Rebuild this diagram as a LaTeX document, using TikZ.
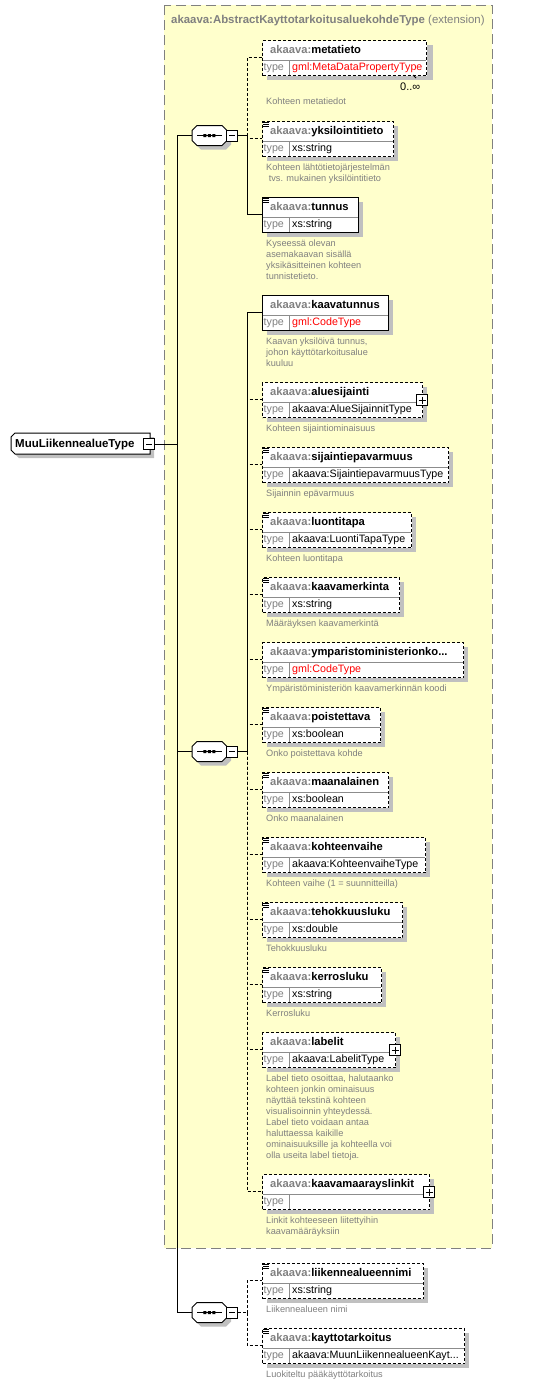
\documentclass[tikz,border=0pt]{standalone}
\usepackage{fontspec}
\setmainfont{Liberation Sans}
\definecolor{bgyellow}{HTML}{FFFFCC}
\definecolor{shadowc}{HTML}{C0C0C0}
\definecolor{prefc}{HTML}{808080}
\definecolor{descc}{HTML}{808080}
\definecolor{sepc}{HTML}{8C8C8C}
\definecolor{bordc}{HTML}{808080}
\definecolor{typered}{HTML}{FF0000}
\tikzset{
 reqb/.style={draw=black, line width=1pt},
 optb/.style={draw=black, line width=1pt, dash pattern=on 3pt off 2pt},
 conn/.style={draw=black, line width=1pt},
 optconn/.style={draw=black, line width=1pt, dash pattern=on 3pt off 2pt},
 hdr/.style={anchor=base west, inner sep=0pt, font=\fontsize{11.2}{13}\selectfont\bfseries},
 typel/.style={anchor=base west, inner sep=0pt, text=prefc, font=\fontsize{10.7}{13}\selectfont},
 typev/.style={anchor=base west, inner sep=0pt, font=\fontsize{10.7}{13}\selectfont},
 desc/.style={anchor=north west, inner sep=0pt, align=left, text=descc, font=\fontsize{9.2}{11}\selectfont},
 pmbox/.style={draw=black, fill=white, line width=1pt, minimum size=11pt, inner sep=0pt},
}
% element box: id, top, width, name, type, style
\newcommand\elem[6]{%
 \fill[shadowc] (267,#2+5) rectangle ++(#3,35);
 \node[#6, fill=white, minimum width=#3pt, minimum height=35pt, inner sep=0pt, anchor=north west] (#1) at (262,#2) {};
 \draw[sepc, line width=1pt] (262.5,#2+20) -- ++(#3-1,0);
 \draw[sepc, line width=1pt] (289,#2+20) -- (289,#2+34.5);
 \node[hdr] (#1h) at (270,#2+13.5) {\textcolor{prefc}{akaava:}#4};
 \node[typel] (#1t) at (263.5,#2+30) {type};
 \node[typev] (#1v) at (292,#2+30) {#5};
 \coordinate (#1c) at (262,#2+17);
}
% description: id, centre of first line, text
\newcommand\edesc[3]{%
 \node[desc] (#1d) at (266,#2-5) {\rule{0pt}{8pt}#3};
}
% element icon: top
\newcommand\elicon[1]{%
 \draw[line width=0.9pt] (263,#1+1.5) -- ++(5.5,0) (263,#1+3.5) -- ++(5.5,0) (263,#1+5.5) -- ++(5.5,0);
}
% plus box: id, x, y
\newcommand\plusbox[3]{%
 \node[pmbox] (#1) at (#2,#3) {};
 \draw[line width=1pt] (#2-3.5,#3) -- (#2+3.5,#3) (#2,#3-3.5) -- (#2,#3+3.5);
}
% sequence: id, cy, style of link to junction
\newcommand\octpath[1]{(197,#1-10) -- (222,#1-10) -- (227,#1-5) -- (227,#1+5) -- (222,#1+10) -- (197,#1+10) -- (192,#1+5) -- (192,#1-5) -- cycle}
\newcommand\seqnode[3]{%
 \begin{scope}[shift={(4,4)}]\fill[shadowc] \octpath{#2};\end{scope}
 \filldraw[fill=white, draw=black, line width=1pt] \octpath{#2};
 \node[inner sep=0pt, minimum width=35pt, minimum height=20pt] (#1) at (209.5,#2) {};
 \draw[line width=1pt] (197,#2) -- (222,#2);
 \fill (203.3,#2-1.5) rectangle ++(3,3) (207.8,#2-1.5) rectangle ++(3,3) (212.3,#2-1.5) rectangle ++(3,3);
 \node[pmbox] (#1m) at (232,#2) {};
 \draw[line width=1pt] (229,#2) -- (235,#2);
 \coordinate (#1w) at (192,#2);
 \coordinate (#1j) at (247,#2);
 \draw[#3] (#1m.east) -- (#1j);
}
\begin{document}
\begin{tikzpicture}[x=1pt,y=-1pt]
\useasboundingbox (0,0) rectangle (534,1384);
\fill[white] (0,0) rectangle (534,1384);
% extension background
\draw[draw=bordc, fill=bgyellow, line width=1pt, dash pattern=on 10pt off 5pt] (164,5) rectangle (492,1248);
\node[anchor=base west, inner sep=0pt, text=prefc, font=\fontsize{11.4}{13}\selectfont] (title) at (171,23) {\textbf{akaava:AbstractKayttotarkoitusaluekohdeType} (extension)};

% root
\begin{scope}[shift={(4,4)}]\fill[shadowc] (15,433) -- (150,433) -- (150,454) -- (15,454) -- (11,450) -- (11,437) -- cycle;\end{scope}
\filldraw[fill=white, draw=black, line width=1pt] (15,433) -- (150,433) -- (150,454) -- (15,454) -- (11,450) -- (11,437) -- cycle;
\node[anchor=base west, inner sep=0pt, font=\fontsize{11.5}{13}\selectfont\bfseries] (root) at (15,447) {MuuLiikennealueType};
\node[pmbox] (rootm) at (149,444) {};
\draw[line width=1pt] (146,444) -- (152,444);

% main vertical
\coordinate (vx1) at (177,135.5);
\coordinate (vx3) at (177,1312.5);
\draw[conn] (vx1) -- (vx3);
\draw[conn] (rootm.east) -- (rootm.east -| vx1);

% sequences
\seqnode{s1}{135.5}{conn}
\seqnode{s2}{751.5}{conn}
\seqnode{s3}{1312.5}{optconn}
\draw[conn] (vx1) -- (s1w);
\draw[conn] (s2w -| vx1) -- (s2w);
\draw[conn] (vx3) -- (s3w);

% elements
\fill[shadowc] (269,45) rectangle ++(164,35);
\elem{meta}{40}{164}{metatieto}{\textcolor{typered}{gml:MetaDataPropertyType}}{optb}
\node[anchor=base west, inner sep=0pt, font=\fontsize{11}{13}\selectfont] (metaocc) at (400,90) {0..∞};
\draw[line width=0.8pt] (413,75) -- (416,78);
\edesc{meta}{101.5}{Kohteen metatiedot}

\elem{yks}{121}{131}{yksilointitieto}{xs:string}{optb}\elicon{121}
\edesc{yks}{167}{Kohteen lähtötietojärjestelmän\\\ tvs. mukainen yksilöintitieto}

\elem{tun}{197}{96}{tunnus}{xs:string}{reqb}\elicon{197}
\edesc{tun}{243}{Kyseessä olevan\\asemakaavan sisällä\\yksikäsitteinen kohteen\\tunnistetieto.}

\elem{kaav}{295}{126}{kaavatunnus}{\textcolor{typered}{gml:CodeType}}{reqb}
\edesc{kaav}{341}{Kaavan yksilöivä tunnus,\\johon käyttötarkoitusalue\\kuuluu}

\elem{alue}{382}{160}{aluesijainti}{akaava:AlueSijainnitType}{optb}
\plusbox{aluep}{422}{400}
\edesc{alue}{428}{Kohteen sijaintiominaisuus}

\elem{sij}{447}{186}{sijaintiepavarmuus}{akaava:SijaintiepavarmuusType}{optb}\elicon{447}
\edesc{sij}{493}{Sijainnin epävarmuus}

\elem{luo}{512}{149}{luontitapa}{akaava:LuontiTapaType}{optb}\elicon{512}
\edesc{luo}{558}{Kohteen luontitapa}

\elem{kmer}{577}{137}{kaavamerkinta}{xs:string}{optb}\elicon{577}
\edesc{kmer}{623}{Määräyksen kaavamerkintä}

\elem{ymp}{642}{201}{ymparistoministerionko...}{\textcolor{typered}{gml:CodeType}}{optb}
\edesc{ymp}{688}{Ympäristöministeriön kaavamerkinnän koodi}

\elem{poi}{707}{118}{poistettava}{xs:boolean}{optb}\elicon{707}
\edesc{poi}{753}{Onko poistettava kohde}

\elem{maa}{772}{126}{maanalainen}{xs:boolean}{optb}\elicon{772}
\edesc{maa}{818}{Onko maanalainen}

\elem{koh}{837}{163}{kohteenvaihe}{akaava:KohteenvaiheType}{optb}\elicon{837}
\edesc{koh}{883}{Kohteen vaihe (1 = suunnitteilla)}

\elem{teh}{902}{140}{tehokkuusluku}{xs:double}{optb}\elicon{902}
\edesc{teh}{948}{Tehokkuusluku}

\elem{ker}{967}{119}{kerrosluku}{xs:string}{optb}\elicon{967}
\edesc{ker}{1013}{Kerrosluku}

\elem{lab}{1032}{133}{labelit}{akaava:LabelitType}{optb}
\plusbox{labp}{395}{1050}
\edesc{lab}{1078}{Label tieto osoittaa, halutaanko\\kohteen jonkin ominaisuus\\näyttää tekstinä kohteen\\visualisoinnin yhteydessä.\\Label tieto voidaan antaa\\haluttaessa kaikille\\ominaisuuksille ja kohteella voi\\olla useita label tietoja.}

\elem{link}{1174}{167}{kaavamaarayslinkit}{}{optb}
\plusbox{linkp}{429}{1192}
\edesc{link}{1220}{Linkit kohteeseen liitettyihin\\kaavamääräyksiin}

\elem{lnim}{1263}{161}{liikennealueennimi}{xs:string}{optb}\elicon{1263}
\edesc{lnim}{1309}{Liikennealueen nimi}

\elem{kay}{1328}{202}{kayttotarkoitus}{akaava:MuunLiikennealueenKayt...}{optb}\elicon{1328}
\edesc{kay}{1374}{Luokiteltu pääkäyttötarkoitus}

% connectors
\draw[optconn] (s1j) |- (metac);
\draw[optconn] (s1j) |- (yksc);
\draw[conn] (s1j) |- (tunc);

\draw[optconn] (s2j) |- (aluec);
\draw[optconn] (s2j) |- (sijc);
\draw[optconn] (s2j) |- (luoc);
\draw[optconn] (s2j) |- (kmerc);
\draw[optconn] (s2j) |- (ympc);
\draw[optconn] (s2j) |- (poic);
\draw[optconn] (s2j) |- (maac);
\draw[optconn] (s2j) |- (kohc);
\draw[optconn] (s2j) |- (tehc);
\draw[optconn] (s2j) |- (kerc);
\draw[optconn] (s2j) |- (labc);
\draw[optconn] (s2j) |- (linkc);
\draw[conn] (s2j) |- (kaavc);

\draw[optconn] (s3j) |- (lnimc);
\draw[optconn] (s3j) |- (kayc);
\end{tikzpicture}
\end{document}
